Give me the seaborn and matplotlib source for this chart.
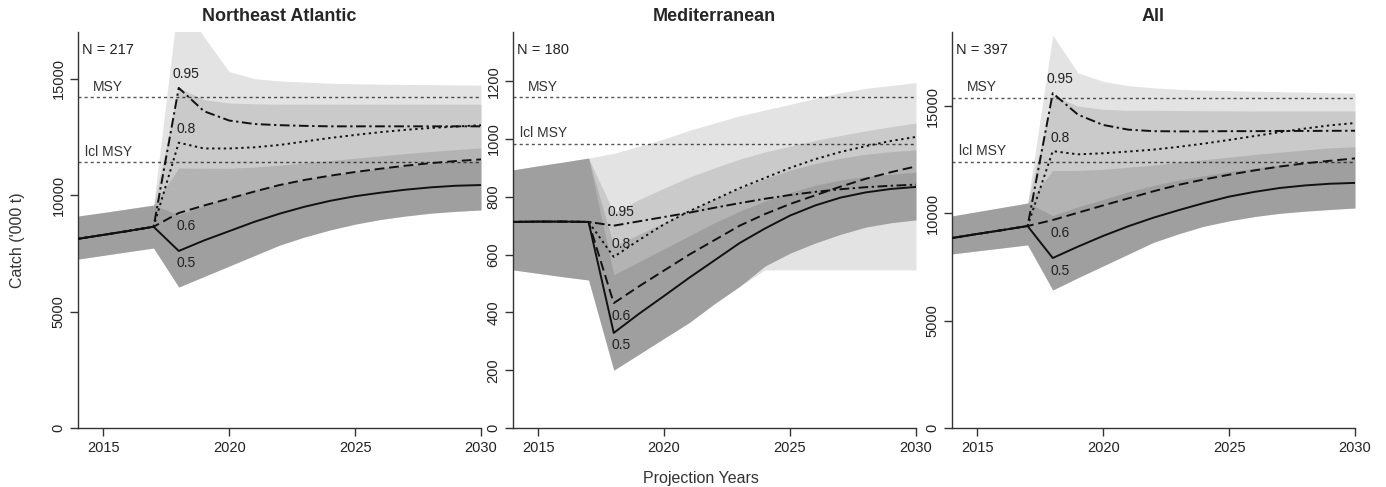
import matplotlib
matplotlib.use("Agg")
import matplotlib.pyplot as plt
import numpy as np
import pandas as pd
import seaborn as sns

# ---------------------------------------------------------------- data
years = list(range(2014, 2031))
prob_levels = ["0.5", "0.6", "0.8", "0.95"]
panel_titles = ["Northeast Atlantic", "Mediterranean", "All"]
panel_counts = ["N = 217", "N = 180", "N = 397"]
x_ticks = [2015, 2020, 2025, 2030]

# Northeast Atlantic catch ('000 t) under each probability level
nea_p50 = [8120, 8290, 8460, 8640, 7600, 8050, 8450, 8850, 9200, 9500, 9750, 9950, 10100, 10230, 10330, 10400, 10430]
nea_p60 = [8120, 8290, 8460, 8640, 9230, 9550, 9850, 10150, 10430, 10650, 10830, 10990, 11130, 11260, 11370, 11460, 11530]
nea_p80 = [8120, 8290, 8460, 8640, 12250, 12000, 12000, 12050, 12150, 12300, 12450, 12580, 12700, 12800, 12880, 12940, 13000]
nea_p95 = [8120, 8290, 8460, 8640, 14600, 13600, 13200, 13050, 13000, 12970, 12950, 12950, 12950, 12950, 12950, 12950, 12950]
nea_band_lo = [7250, 7410, 7570, 7725, 6050, 6500, 6950, 7400, 7850, 8200, 8500, 8750, 8950, 9100, 9220, 9300, 9360]
nea_band50_hi = [9100, 9250, 9410, 9570, 9150, 9550, 9900, 10200, 10450, 10650, 10850, 11000, 11150, 11250, 11350, 11420, 11480]
nea_band60_hi = [9100, 9250, 9410, 9570, 11160, 11150, 11150, 11200, 11280, 11380, 11480, 11580, 11680, 11780, 11870, 11950, 12020]
nea_band80_hi = [9100, 9250, 9410, 9570, 14600, 14100, 13950, 13920, 13900, 13900, 13900, 13900, 13900, 13900, 13900, 13900, 13900]
nea_band95_hi = [9100, 9250, 9410, 9570, 18500, 16800, 15300, 15000, 14900, 14850, 14800, 14780, 14760, 14750, 14740, 14730, 14720]
nea_band95_lo = nea_band_lo
nea_msy, nea_lcl_msy = 14200, 11420

# Mediterranean
med_p50 = [713, 714, 714, 713, 329, 395, 457, 520, 580, 640, 690, 735, 770, 797, 815, 827, 834]
med_p60 = [713, 714, 714, 713, 432, 490, 545, 600, 650, 700, 740, 775, 805, 835, 862, 885, 905]
med_p80 = [713, 714, 714, 713, 592, 650, 705, 750, 790, 830, 865, 900, 930, 955, 975, 993, 1007]
med_p95 = [713, 714, 714, 713, 700, 715, 730, 745, 762, 778, 793, 806, 817, 826, 833, 838, 842]
med_band_lo = [547, 535, 523, 512, 200, 255, 310, 365, 430, 490, 560, 605, 640, 670, 695, 710, 720]
med_band50_hi = [893, 907, 920, 934, 530, 575, 620, 665, 710, 750, 785, 815, 840, 858, 870, 878, 885]
med_band60_hi = [893, 907, 920, 934, 630, 670, 710, 752, 792, 830, 862, 892, 915, 933, 947, 956, 962]
med_band80_hi = [893, 907, 920, 934, 745, 790, 830, 868, 900, 930, 955, 975, 995, 1012, 1028, 1042, 1055]
med_band95_hi = [893, 907, 920, 934, 950, 975, 1000, 1030, 1055, 1080, 1100, 1120, 1140, 1160, 1175, 1185, 1195]
med_band95_lo = [547, 535, 523, 512, 200, 255, 310, 365, 430, 490, 547, 547, 547, 547, 547, 547, 547]
med_msy, med_lcl_msy = 1145, 983

# All regions combined
all_p50 = [8850, 9040, 9220, 9410, 7920, 8450, 8950, 9400, 9800, 10150, 10480, 10780, 11000, 11180, 11300, 11380, 11420]
all_p60 = [8850, 9040, 9220, 9410, 9690, 10030, 10370, 10700, 11030, 11330, 11580, 11800, 12000, 12180, 12330, 12450, 12560]
all_p80 = [8850, 9040, 9220, 9410, 12900, 12750, 12800, 12880, 12970, 13100, 13250, 13420, 13600, 13780, 13950, 14100, 14210]
all_p95 = [8850, 9040, 9220, 9410, 15600, 14600, 14120, 13900, 13830, 13820, 13820, 13830, 13830, 13840, 13840, 13845, 13850]
all_band_lo = [8110, 8250, 8390, 8530, 6430, 7000, 7550, 8100, 8650, 9050, 9400, 9650, 9850, 10000, 10100, 10180, 10250]
all_band50_hi = [9880, 10080, 10280, 10480, 9900, 10300, 10650, 11000, 11300, 11550, 11750, 11950, 12100, 12250, 12350, 12430, 12500]
all_band60_hi = [9880, 10080, 10280, 10480, 12000, 12000, 12050, 12150, 12250, 12380, 12500, 12620, 12740, 12850, 12950, 13050, 13100]
all_band80_hi = [9880, 10080, 10280, 10480, 15500, 15000, 14850, 14800, 14800, 14790, 14780, 14780, 14770, 14770, 14770, 14770, 14770]
all_band95_hi = [9880, 10080, 10280, 10480, 18300, 16550, 16150, 15950, 15850, 15780, 15740, 15720, 15690, 15670, 15650, 15620, 15600]
all_band95_lo = all_band_lo
all_msy, all_lcl_msy = 15380, 12400

panels = [
    dict(lines=[nea_p50, nea_p60, nea_p80, nea_p95], lo=nea_band_lo, lo95=nea_band95_lo,
         hi=[nea_band50_hi, nea_band60_hi, nea_band80_hi, nea_band95_hi],
         msy=nea_msy, lcl=nea_lcl_msy, ymax=17000, yticks=[0, 5000, 10000, 15000]),
    dict(lines=[med_p50, med_p60, med_p80, med_p95], lo=med_band_lo, lo95=med_band95_lo,
         hi=[med_band50_hi, med_band60_hi, med_band80_hi, med_band95_hi],
         msy=med_msy, lcl=med_lcl_msy, ymax=1370, yticks=[0, 200, 400, 600, 800, 1000, 1200]),
    dict(lines=[all_p50, all_p60, all_p80, all_p95], lo=all_band_lo, lo95=all_band95_lo,
         hi=[all_band50_hi, all_band60_hi, all_band80_hi, all_band95_hi],
         msy=all_msy, lcl=all_lcl_msy, ymax=18450, yticks=[0, 5000, 10000, 15000]),
]

# ---------------------------------------------------------------- style
sns.set_theme(style="ticks")
plt.rcParams["font.family"] = ["Liberation Sans", "DejaVu Sans"]
plt.rcParams["axes.edgecolor"] = "#333333"
plt.rcParams["axes.linewidth"] = 1.0
plt.rcParams["xtick.color"] = "#333333"
plt.rcParams["ytick.color"] = "#333333"
plt.rcParams["xtick.labelcolor"] = "#222222"
plt.rcParams["ytick.labelcolor"] = "#222222"

line_dashes = {"0.5": "", "0.6": (5, 2.5), "0.8": (1.2, 1.8), "0.95": (1.2, 1.8, 5, 1.8)}
label_offsets = {"0.5": -9, "0.6": -9.5, "0.8": 9.5, "0.95": 10}

W, H = 1386, 487
fig = plt.figure(figsize=(W / 100, H / 100), dpi=100)
lefts = [78, 513, 952]
ax_w, ax_top, ax_bot = 403, 32, 428

for i, p in enumerate(panels):
    ax = fig.add_axes([lefts[i] / W, 1 - ax_bot / H, ax_w / W, (ax_bot - ax_top) / H])

    # reference levels
    for val, txt, dx in [(p["msy"], "MSY", 2015.2), (p["lcl"], "lcl MSY", 2015.2)]:
        ax.axhline(val, color="#555555", lw=1.0, ls=(0, (2.2, 2.2)), zorder=1)
        ax.annotate(txt, (dx, val), xytext=(0, 2.5), textcoords="offset points",
                    ha="center", va="bottom", fontsize=10, color="#333333", zorder=4)

    # uncertainty bands, translucent so overlaps darken
    for j, hi in enumerate(p["hi"]):
        lo = p["lo95"] if j == 3 else p["lo"]
        ax.fill_between(years, lo, hi, color="black", alpha=0.11, lw=0, zorder=2)

    # projected catch lines
    df = pd.DataFrame({
        "year": years * 4,
        "catch": np.concatenate(p["lines"]),
        "prob": np.repeat(prob_levels, len(years)),
    })
    sns.lineplot(data=df, x="year", y="catch", style="prob", style_order=prob_levels[::-1],
                 dashes=line_dashes, color="#111111", lw=1.4, errorbar=None,
                 legend=False, ax=ax, zorder=3)

    # probability labels at the first projection year
    for lvl, vals in zip(prob_levels, p["lines"]):
        ax.annotate(lvl, (2018, vals[4]), xytext=(5, label_offsets[lvl]),
                    textcoords="offset points", ha="center", va="center",
                    fontsize=10, color="#222222", zorder=4)

    ax.text(0.01, 0.955, panel_counts[i], transform=ax.transAxes, ha="left", va="center",
            fontsize=10.5, color="#222222")

    ax.set_xlim(2014, 2030)
    ax.set_ylim(0, p["ymax"])
    ax.set_xticks(x_ticks)
    ax.set_yticks(p["yticks"])
    ax.tick_params(direction="out", length=6, width=1, labelsize=10.5, pad=3)
    for lab in ax.get_yticklabels():
        lab.set_rotation(90)
        lab.set_va("center")
    ax.set_xlabel("")
    ax.set_ylabel("")
    ax.set_title(panel_titles[i], fontweight="bold", fontsize=13, pad=8)
    sns.despine(ax=ax)

fig.text(701 / W, 1 - 478 / H, "Projection Years", ha="center", va="center",
         fontsize=11.5, color="#333333")
fig.text(18 / W, 1 - 240 / H, "Catch ('000 t)", ha="center", va="center",
         rotation=90, fontsize=11.5, color="#333333")

fig.savefig("out.png", dpi=100, facecolor="white")
